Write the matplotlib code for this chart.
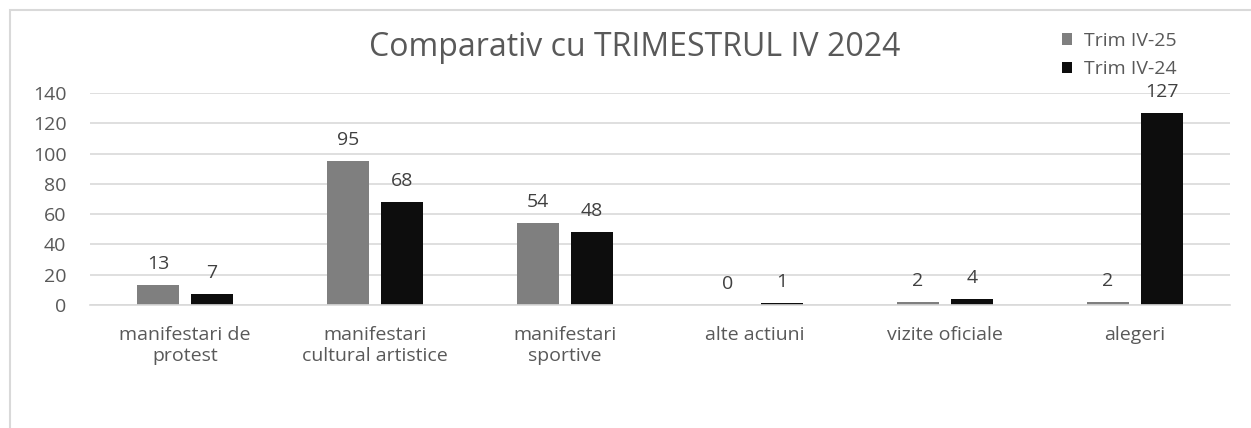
import numpy as np
import matplotlib.pyplot as plt
from matplotlib.patches import Rectangle

plt.rcParams['font.family'] = ['Open Sans', 'DejaVu Sans']

# data
categories = ['manifestari de\nprotest', 'manifestari\ncultural artistice',
              'manifestari\nsportive', 'alte actiuni', 'vizite oficiale', 'alegeri']
trim_25 = [13, 95, 54, 0, 2, 2]
trim_24 = [7, 68, 48, 1, 4, 127]
series_names = ['Trim IV-25', 'Trim IV-24']

gray = '#7f7f7f'
black = '#0d0d0d'
txt = '#595959'

fig = plt.figure(figsize=(12.51, 4.28), dpi=100)
ax = fig.add_axes([90/1251, 1-305/428, 1140/1251, 212/428])

x = np.arange(len(categories))
w = 0.225
off = 0.142
b1 = ax.bar(x - off, trim_25, w, color=gray, label=series_names[0])
b2 = ax.bar(x + off, trim_24, w, color=black, label=series_names[1])

for bars, vals in ((b1, trim_25), (b2, trim_24)):
    for r, v in zip(bars, vals):
        ax.text(r.get_x() + r.get_width()/2, v + 8, str(v), ha='center', va='bottom',
                fontsize=14, color='#404040')

ax.set_xlim(-0.5, len(categories) - 0.5)
ax.set_ylim(0, 140)
ax.set_yticks(range(0, 141, 20))
ax.yaxis.grid(True, color='#d9d9d9', linewidth=1.2)
ax.set_axisbelow(True)
for s in ['top', 'right', 'left']:
    ax.spines[s].set_visible(False)
ax.spines['bottom'].set_color('#d9d9d9')
ax.spines['bottom'].set_linewidth(1.2)
ax.tick_params(axis='both', length=0, labelsize=14, labelcolor=txt)
ax.tick_params(axis='x', pad=15)
ax.tick_params(axis='y', pad=17)
ax.set_xticks(x)
ax.set_xticklabels(categories, linespacing=1.25)

fig.text(635/1251, 1-48/428, 'Comparativ cu TRIMESTRUL IV 2024', ha='center', va='center',
         fontsize=23, color=txt)

fig.legend(handles=[b1, b2], loc='upper left', bbox_to_anchor=(1052/1251, 1-22/428),
           frameon=False, fontsize=14, labelcolor=txt, handlelength=0.55, handleheight=0.55,
           handletextpad=0.6, labelspacing=0.55, borderpad=0)

# chart border
fig.patches.append(Rectangle((10/1251, -0.1), 1.1, 1.1 - 10/428, transform=fig.transFigure,
                             fill=False, edgecolor='#d9d9d9', linewidth=1.5))

fig.savefig('out.png', dpi=100)
